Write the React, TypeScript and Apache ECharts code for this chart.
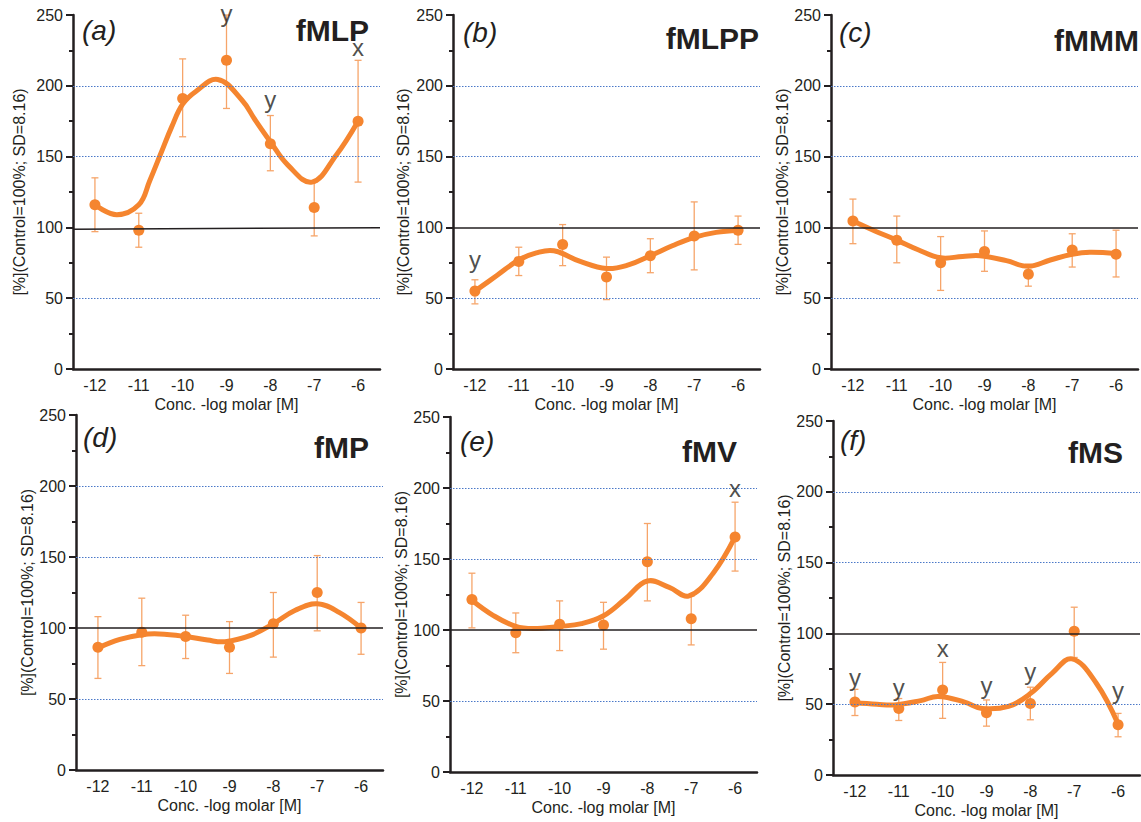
import React, { useEffect, useRef } from "react";
import * as echarts from "echarts";

const FONT = '"Liberation Sans", Arial, Helvetica, sans-serif';
const ORANGE = "#F5852F";
const ERR = "#F6A56A";
const INK = "#231f20";
const GRIDBLUE = "#4a78c8";

const categories = ["-12", "-11", "-10", "-9", "-8", "-7", "-6"];
const xValues = [-12, -11, -10, -9, -8, -7, -6];
const yTickValues = [0, 50, 100, 150, 200, 250];

const panelTags = ["(a)", "(b)", "(c)", "(d)", "(e)", "(f)"];
const panelNames = ["fMLP", "fMLPP", "fMMM", "fMP", "fMV", "fMS"];

// (a) fMLP
const meanA = [116, 98, 191, 218, 159, 114, 175];
const lowA = [97, 86, 164, 184, 140, 94, 132];
const highA = [135, 110, 219, 250, 179, 132, 218];
const curveXA = [-12, -11.5, -11, -10.75, -10.5, -10.25, -10, -9.7, -9.2, -8.65, -8.35, -8, -7.6, -7.05, -6.5, -6];
const curveA = [116, 109, 116, 133, 152, 171, 187, 196, 204.5, 190, 176, 160.5, 144, 132, 151, 175];
const lettersA = [[-9, 251, "y"], [-8, 190, "y"], [-6, 227, "x"]];

// (b) fMLPP
const meanB = [55, 76, 88, 65, 80, 94, 98];
const lowB = [46, 66, 73, 49, 68, 70, 88];
const highB = [63, 86, 102, 79, 92, 118, 108];
const curveXB = [-12, -11.5, -11, -10.6, -10.2, -9.6, -9, -8.5, -8, -7.5, -7, -6.5, -6];
const curveB = [55, 66, 77, 82, 83.5, 76, 71, 73.5, 80, 87, 93, 96.5, 98];
const lettersB = [[-12, 77, "y"]];

// (c) fMMM
const meanC = [104.5, 91, 75, 83, 67, 84, 81];
const lowC = [88.5, 75, 55.5, 69, 58.5, 72, 65];
const highC = [120, 108, 93.5, 97.5, 74, 95.5, 98];
const curveXC = [-12, -11.5, -11, -10.5, -10, -9.5, -9.1, -8.5, -8, -7.5, -7, -6.6, -6];
const curveC = [104.5, 97.5, 91, 84, 78.5, 79.5, 80, 76.5, 72.5, 77, 81, 82.5, 81.5];
const lettersC: (number | string)[][] = [];

// (d) fMP
const meanD = [86.5, 97, 94, 86.5, 103, 125, 100];
const lowD = [64.5, 73.5, 78.5, 68, 79.5, 98, 81.5];
const highD = [108, 121, 109, 104.5, 125, 151, 118];
const curveXD = [-12, -11.5, -11, -10.6, -10, -9.5, -9.1, -8.5, -8, -7.5, -7, -6.5, -6];
const curveD = [86, 92, 95.3, 95.8, 94, 91.5, 90.4, 95, 103, 112.5, 117, 111, 100];
const lettersD: (number | string)[][] = [];

// (e) fMV
const meanE = [121.5, 98, 104, 103.5, 148, 108, 165.5];
const lowE = [101.5, 84, 85.5, 86.5, 120.5, 89.5, 141.5];
const highE = [140, 112, 120.5, 119.5, 175, 124, 190];
const curveXE = [-12, -11.5, -11, -10.6, -10, -9.5, -9, -8.5, -8, -7.5, -7.05, -6.5, -6];
const curveE = [121, 110, 102.5, 101, 102.5, 104.5, 110, 122, 134.5, 130, 124, 140, 165.5];
const lettersE = [[-6, 200, "x"]];

// (f) fMS
const meanF = [51.5, 47, 60, 44, 50.5, 101.5, 35.5];
const lowF = [42, 38.5, 40, 34.5, 39, 83, 27];
const highF = [60.5, 54, 79.5, 53, 62, 118.5, 43.5];
const curveXF = [-12, -11.5, -11.1, -10.5, -10.1, -9.5, -9.1, -8.5, -8, -7.5, -7.05, -6.5, -6];
const curveF = [51, 50, 49.5, 52.5, 55.5, 51.5, 47, 48.5, 57.5, 72, 82, 65, 36];
const lettersF = [[-12, 69, "y"], [-11, 62, "y"], [-10, 89, "x"], [-9, 63, "y"], [-8, 73, "y"], [-6, 60, "y"]];

// control line at 100 (left end, right end)
const controlA = [98.7, 99.8];
const controlOther = [100, 100];

const panels = [
  { mean: meanA, low: lowA, high: highA, cx: curveXA, curve: curveA, letters: lettersA, control: controlA },
  { mean: meanB, low: lowB, high: highB, cx: curveXB, curve: curveB, letters: lettersB, control: controlOther },
  { mean: meanC, low: lowC, high: highC, cx: curveXC, curve: curveC, letters: lettersC, control: controlOther },
  { mean: meanD, low: lowD, high: highD, cx: curveXD, curve: curveD, letters: lettersD, control: controlOther },
  { mean: meanE, low: lowE, high: highE, cx: curveXE, curve: curveE, letters: lettersE, control: controlOther },
  { mean: meanF, low: lowF, high: highF, cx: curveXF, curve: curveF, letters: lettersF, control: controlOther },
];

// layout (pixels)
const layout = [
  { left: 73, top: 15, height: 354, nameGap: 46, tagX: 82, tagY: 32, nameX: 369, nameY: 30 },
  { left: 453, top: 15, height: 354, nameGap: 42, tagX: 463, tagY: 34, nameX: 759, nameY: 38 },
  { left: 831, top: 15, height: 354, nameGap: 41, tagX: 839, tagY: 34, nameX: 1139, nameY: 40 },
  { left: 76, top: 415, height: 355, nameGap: 38, tagX: 83, tagY: 439, nameX: 369, nameY: 447 },
  { left: 450, top: 417, height: 355, nameGap: 39, tagX: 460, tagY: 443, nameX: 737, nameY: 451 },
  { left: 833, top: 421, height: 354, nameGap: 40, tagX: 840, tagY: 442, nameX: 1123, nameY: 452 },
];
const PANEL_W = 307;

function buildOption() {
  const grid: any[] = [];
  const xAxis: any[] = [];
  const yAxis: any[] = [];
  const series: any[] = [];
  const graphic: any[] = [];

  panels.forEach((p, i) => {
    const L = layout[i];
    grid.push({ left: L.left, top: L.top, width: PANEL_W, height: L.height });
    xAxis.push({
      type: "category",
      gridIndex: i,
      data: categories,
      boundaryGap: true,
      axisLine: { lineStyle: { color: INK, width: 2.5 } },
      axisTick: { alignWithLabel: true, length: 6, lineStyle: { color: INK, width: 2 } },
      axisLabel: { fontSize: 16, color: INK, margin: 8, fontFamily: FONT },
      splitLine: { show: false },
      name: "Conc. -log molar [M]",
      nameLocation: "middle",
      nameGap: 27,
      nameTextStyle: { fontSize: 16, color: INK, fontFamily: FONT },
    });
    xAxis.push({
      type: "value",
      gridIndex: i,
      min: -12.5,
      max: -5.5,
      show: false,
      splitLine: { show: false },
    });
    yAxis.push({
      type: "value",
      gridIndex: i,
      min: 0,
      max: 250,
      interval: 50,
      axisLine: { show: true, lineStyle: { color: INK, width: 2.5 } },
      axisTick: { show: true, length: 7, lineStyle: { color: INK, width: 2 } },
      minorTick: { show: true, splitNumber: 2, length: 4, lineStyle: { color: INK, width: 2 } },
      splitLine: { show: false },
      minorSplitLine: { show: false },
      axisLabel: {
        fontSize: 16,
        color: INK,
        margin: 10,
        fontFamily: FONT,
        customValues: yTickValues,
      },
      name: "[%](Control=100%; SD=8.16)",
      nameLocation: "middle",
      nameGap: L.nameGap,
      nameTextStyle: { fontSize: 16, color: INK, fontFamily: FONT },
    });

    const vx = 2 * i + 1;

    // reference lines
    series.push({
      type: "line",
      xAxisIndex: vx,
      yAxisIndex: i,
      data: [],
      z: 1,
      silent: true,
      markLine: {
        silent: true,
        symbol: ["none", "none"],
        label: { show: false },
        animation: false,
        data: [
          { yAxis: 50, lineStyle: { type: [1.5, 1.5], color: GRIDBLUE, width: 1 } },
          { yAxis: 150, lineStyle: { type: [1.5, 1.5], color: GRIDBLUE, width: 1 } },
          { yAxis: 200, lineStyle: { type: [1.5, 1.5], color: GRIDBLUE, width: 1 } },
          [
            { coord: [-12.5, p.control[0]], lineStyle: { type: "solid", color: INK, width: 1.6 } },
            { coord: [-5.5, p.control[1]], lineStyle: { type: "solid", color: INK, width: 1.6 } },
          ],
        ],
      },
    });

    // error bars
    series.push({
      type: "custom",
      xAxisIndex: vx,
      yAxisIndex: i,
      z: 2,
      silent: true,
      encode: { x: 0, y: [1, 2] },
      data: xValues.map((x, j) => [x, p.low[j], p.high[j]]),
      renderItem: (params: any, api: any) => {
        const x = api.value(0);
        const lo = api.coord([x, api.value(1)]);
        const hi = api.coord([x, api.value(2)]);
        const w = 3.5;
        const st = { stroke: ERR, lineWidth: 1.3 };
        return {
          type: "group",
          children: [
            { type: "line", shape: { x1: hi[0], y1: hi[1], x2: lo[0], y2: lo[1] }, style: st },
            { type: "line", shape: { x1: hi[0] - w, y1: hi[1], x2: hi[0] + w, y2: hi[1] }, style: st },
            { type: "line", shape: { x1: lo[0] - w, y1: lo[1], x2: lo[0] + w, y2: lo[1] }, style: st },
          ],
        };
      },
    });

    // mean points
    series.push({
      type: "scatter",
      xAxisIndex: vx,
      yAxisIndex: i,
      z: 3,
      symbol: "circle",
      symbolSize: 11,
      itemStyle: { color: ORANGE, opacity: 1 },
      data: xValues.map((x, j) => [x, p.mean[j]]),
    });

    // fitted curve (smooth path through the read curve samples)
    const cx = p.cx;
    const cy = p.curve;
    series.push({
      type: "custom",
      xAxisIndex: vx,
      yAxisIndex: i,
      z: 4,
      silent: true,
      clip: false,
      encode: { x: 0, y: 1 },
      data: cx.map((x, j) => [x, cy[j]]),
      renderItem: (params: any, api: any) => {
        if (params.dataIndex !== 0) return null;
        const pts = cx.map((x, j) => api.coord([x, cy[j]]));
        return {
          type: "polyline",
          shape: { points: pts, smooth: 0.4 },
          style: { stroke: ORANGE, lineWidth: 5, fill: "none", lineCap: "round", lineJoin: "round" },
        };
      },
    });

    // significance letters
    if (p.letters.length) {
      series.push({
        type: "scatter",
        xAxisIndex: vx,
        yAxisIndex: i,
        z: 5,
        clip: false,
        symbolSize: 0,
        itemStyle: { color: "transparent" },
        label: {
          show: true,
          position: "inside",
          formatter: (d: any) => d.value[2],
          fontSize: 24,
          color: INK,
          fontFamily: FONT,
        },
        data: p.letters.map((l) => ({ value: l })),
      });
    }

    graphic.push({
      type: "text",
      left: L.tagX,
      top: L.tagY - 16,
      style: {
        text: panelTags[i],
        fontSize: 28,
        fontStyle: "italic",
        fontFamily: FONT,
        fill: INK,
      },
    });
    graphic.push({
      type: "text",
      x: L.nameX,
      y: L.nameY,
      style: {
        text: panelNames[i],
        fontSize: 30,
        fontWeight: "bold",
        fontFamily: FONT,
        fill: INK,
        align: "right",
        verticalAlign: "middle",
      },
    });
  });

  return {
    animation: false,
    backgroundColor: "#ffffff",
    textStyle: { fontFamily: FONT },
    grid,
    xAxis,
    yAxis,
    series,
    graphic,
  };
}

export default function App() {
  const ref = useRef<HTMLDivElement>(null);
  useEffect(() => {
    document.body.style.margin = "0";
    if (!ref.current) return;
    const chart = echarts.init(ref.current, null, { renderer: "svg" });
    chart.setOption(buildOption() as any);
    return () => chart.dispose();
  }, []);
  return (
    <div
      ref={ref}
      style={{ position: "absolute", left: 0, top: 0, width: 1141, height: 822, background: "#fff" }}
    />
  );
}
